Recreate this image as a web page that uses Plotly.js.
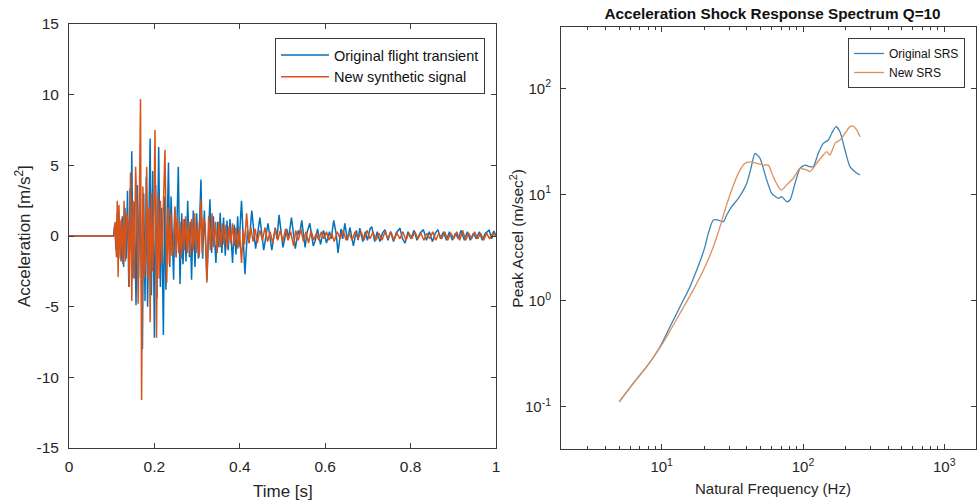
<!DOCTYPE html>
<html>
<head>
<meta charset="utf-8">
<script src="https://cdn.plot.ly/plotly-3.0.1.min.js"></script>
<style>
  html, body { margin: 0; padding: 0; background: #ffffff; }
  #chart { width: 977px; height: 504px; }
</style>
</head>
<body>
<div id="chart"></div>
<script>
// Time history of the flight transient and the synthesized replacement: [time (s), acceleration (m/s^2)]
const originalFlight = [
  [0,0],[0.104,0],[0.107,0.8],[0.110,-1.0],[0.113,1.6],[0.116,-1.4],[0.119,1.1],[0.122,-1.8],[0.125,1.4],[0.128,-2.2],
  [0.131,2.0],[0.134,-1.6],[0.137,3.2],[0.140,-3.6],[0.143,3.4],[0.145,-1.0],[0.147,6.0],[0.150,-3.0],[0.153,2.4],[0.157,-4.9],
  [0.160,3.6],[0.163,-3.0],[0.166,3.5],[0.172,-8.0],[0.175,3.0],[0.178,-4.6],[0.181,4.2],[0.184,-5.0],[0.190,6.9],[0.193,-4.2],
  [0.196,4.6],[0.200,-7.2],[0.203,3.6],[0.206,-4.4],[0.210,6.3],[0.214,-3.6],[0.217,2.0],[0.221,-7.0],[0.224,2.8],[0.227,-3.8],
  [0.233,5.2],[0.236,-2.2],[0.239,2.8],[0.245,-3.1],[0.248,2.0],[0.251,-1.5],[0.256,4.9],[0.260,-3.4],[0.264,1.6],[0.267,-2.0],
  [0.271,1.2],[0.274,-1.8],[0.278,2.5],[0.282,-1.5],[0.284,1.0],[0.287,-3.1],[0.291,1.8],[0.295,-2.2],[0.299,1.6],[0.303,-1.6],
  [0.309,4.0],[0.313,-1.6],[0.317,1.8],[0.323,-3.1],[0.330,2.6],[0.334,-1.2],[0.338,1.4],[0.344,-1.9],[0.348,1.0],[0.351,-0.8],
  [0.354,1.65],[0.358,-1.2],[0.362,1.3],[0.366,-1.4],[0.370,1.1],[0.373,-1.0],[0.377,1.2],[0.383,-1.9],[0.387,0.8],[0.391,-1.3],
  [0.395,1.4],[0.398,-0.8],[0.404,2.5],[0.407,0.2],[0.412,-2.7],[0.418,0.4],[0.422,-0.5],[0.428,1.8],[0.437,-0.9],[0.447,1.3],
  [0.456,-1.0],[0.466,0.9],[0.475,-1.0],[0.483,0.6],[0.487,-0.2],[0.492,1.5],[0.501,-0.8],[0.510,0.5],[0.514,-0.2],[0.521,1.3],
  [0.530,-0.9],[0.537,0.4],[0.540,0.1],[0.545,1.1],[0.553,-0.8],[0.557,0.2],[0.564,0.9],[0.572,-0.7],[0.577,-0.3],[0.582,0.5],
  [0.589,-0.6],[0.596,0.4],[0.603,-0.5],[0.610,0.3],[0.614,-0.2],[0.620,1.1],[0.626,0.1],[0.630,-1.2],[0.637,0.5],[0.641,-0.2],
  [0.646,0.9],[0.652,-0.3],[0.658,0.6],[0.666,-0.7],[0.673,0.4],[0.677,-0.3],[0.681,0.55],[0.688,-0.4],[0.694,0.3],[0.699,-0.3],
  [0.705,0.5],[0.709,0.66],[0.716,-0.4],[0.722,0.3],[0.728,-0.4],[0.734,0.2],[0.740,0.45],[0.747,-0.3],[0.753,0.3],[0.760,-0.4],
  [0.766,0.2],[0.775,0.55],[0.781,-0.2],[0.787,-0.5],[0.794,0.3],[0.801,-0.2],[0.808,0.4],[0.815,-0.3],[0.822,0.2],[0.830,0.45],
  [0.837,-0.3],[0.844,0.3],[0.851,-0.4],[0.858,0.2],[0.864,0.45],[0.870,-0.2],[0.877,0.3],[0.884,-0.3],[0.891,0.3],[0.898,-0.3],
  [0.905,0.2],[0.912,-0.2],[0.918,0.4],[0.926,-0.3],[0.933,0.3],[0.940,-0.3],[0.947,0.2],[0.954,-0.2],[0.961,0.3],[0.968,-0.3],
  [0.975,0.2],[0.984,0.4],[0.990,-0.2],[0.995,0.35],[1.000,0.0]
];

const syntheticSignal = [
  [0,0],[0.105,0],[0.108,1.0],[0.111,-1.5],[0.113,2.5],[0.115,-2.9],[0.117,2.2],[0.120,-1.6],[0.123,1.2],[0.126,-2.0],
  [0.129,2.5],[0.132,-1.8],[0.135,1.6],[0.138,1.0],[0.141,-3.6],[0.144,4.5],[0.147,-4.6],[0.150,2.5],[0.153,-3.0],[0.156,4.9],
  [0.159,2.0],[0.162,-4.8],[0.165,3.0],[0.1675,9.7],[0.170,-11.6],[0.173,3.5],[0.176,-3.0],[0.179,-1.5],[0.182,4.9],[0.185,-3.0],
  [0.188,2.0],[0.190,-6.1],[0.193,3.0],[0.196,-2.5],[0.199,2.0],[0.2014,7.5],[0.205,-7.2],[0.208,3.0],[0.211,-3.0],[0.214,2.5],
  [0.217,-2.0],[0.220,2.0],[0.2248,6.1],[0.229,-3.3],[0.232,2.0],[0.235,-2.0],[0.238,1.6],[0.241,-1.4],[0.244,-1.0],[0.248,2.1],
  [0.251,-1.5],[0.254,1.4],[0.257,-1.2],[0.260,1.0],[0.263,-1.6],[0.267,1.2],[0.270,-1.0],[0.273,1.4],[0.277,-1.2],[0.280,1.0],
  [0.284,-1.4],[0.287,1.2],[0.291,-1.0],[0.294,1.6],[0.298,-1.2],[0.301,1.0],[0.305,-1.5],[0.309,2.6],[0.312,-1.2],[0.315,1.3],
  [0.319,0.8],[0.323,-3.3],[0.327,1.4],[0.331,-1.0],[0.335,1.6],[0.339,-0.8],[0.343,1.0],[0.347,-1.2],[0.351,1.0],[0.355,-0.8],
  [0.359,0.9],[0.363,-0.6],[0.367,0.8],[0.371,-0.9],[0.375,0.7],[0.379,-0.5],[0.383,0.9],[0.387,-0.7],[0.391,0.6],[0.395,-0.9],
  [0.399,0.5],[0.404,-1.9],[0.408,0.4],[0.411,-0.6],[0.416,1.6],[0.421,-0.5],[0.426,0.6],[0.431,-0.4],[0.436,0.5],[0.441,-0.5],
  [0.447,0.4],[0.453,-0.3],[0.459,0.6],[0.465,-0.4],[0.471,0.3],[0.477,-0.5],[0.483,0.5],[0.489,-0.3],[0.495,0.4],[0.501,-0.4],
  [0.507,0.5],[0.513,-0.3],[0.519,0.3],[0.526,-0.7],[0.531,0.4],[0.537,-0.3],[0.543,0.5],[0.549,-0.4],[0.555,0.3],[0.561,-0.5],
  [0.567,0.4],[0.573,-0.3],[0.579,0.2],[0.585,-0.3],[0.591,0.3],[0.597,-0.2],[0.603,0.3],[0.609,-0.3],[0.615,0.2],[0.621,-0.4],
  [0.628,0.3],[0.635,-0.2],[0.642,0.4],[0.649,-0.3],[0.656,0.2],[0.663,-0.3],[0.670,0.3],[0.677,-0.2],[0.684,0.3],[0.691,-0.3],
  [0.698,0.4],[0.705,-0.2],[0.712,0.3],[0.719,-0.3],[0.726,0.2],[0.733,-0.3],[0.740,0.3],[0.747,-0.2],[0.754,0.3],[0.761,-0.3],
  [0.768,0.2],[0.775,-0.2],[0.782,0.3],[0.789,-0.3],[0.796,0.2],[0.803,-0.2],[0.810,0.3],[0.817,-0.2],[0.824,0.2],[0.831,-0.3],
  [0.838,0.2],[0.845,-0.2],[0.852,0.3],[0.859,-0.3],[0.866,0.2],[0.873,-0.2],[0.880,0.3],[0.887,-0.3],[0.894,0.2],[0.901,-0.2],
  [0.908,0.3],[0.915,-0.3],[0.922,0.4],[0.929,-0.3],[0.936,0.2],[0.943,-0.2],[0.950,0.3],[0.957,-0.2],[0.964,0.2],[0.971,-0.3],
  [0.978,0.2],[0.985,-0.2],[0.992,0.2],[1.000,0.0]
];

// Shock response spectra (Q=10): [natural frequency (Hz), peak acceleration (m/sec^2)]
const originalSRS = [
  [5.0,0.111],[6.29,0.166],[7.83,0.238],[9.73,0.367],[11.45,0.567],[13.48,0.875],[15.86,1.35],[17.69,1.94],[19.19,2.59],[20.25,3.22],
  [21.37,4.30],[23.19,5.74],[25.15,5.74],[27.29,5.53],[28.84,6.40],[31.28,7.66],[34.84,9.19],[39.97,12.7],[42.85,17.7],[45.74,24.4],
  [49.63,21.9],[55.36,13.7],[60.04,10.25],[66.88,9.19],[70.69,9.52],[76.67,8.54],[80.91,8.86],[87.78,12.7],[95.24,17.6],[103.3,18.9],
  [112.1,18.25],[118.3,18.25],[128.3,24.4],[139.2,30.3],[151.0,32.6],[159.6,37.7],[171.2,43.5],[182.7,39.0],[198.2,26.2],[215.0,18.25],
  [233.3,16.4],[253.1,15.25]
];

const newSRS = [
  [5.0,0.111],[6.29,0.166],[7.83,0.238],[9.73,0.361],[10.85,0.457],[13.48,0.759],[16.74,1.26],[20.25,2.08],[23.19,3.22],[25.86,4.96],
  [28.05,7.13],[31.28,11.0],[34.84,15.8],[38.87,19.65],[42.17,20.3],[47.02,19.65],[52.36,18.9],[56.81,18.9],[61.62,14.7],[66.88,11.8],
  [70.69,11.0],[76.67,12.3],[85.39,14.2],[95.24,17.6],[106.2,17.0],[112.1,16.4],[125.0,19.65],[139.2,23.5],[147.2,25.3],[155.3,23.5],
  [168.5,30.3],[182.7,32.6],[198.2,37.7],[215.0,43.5],[227.0,44.1],[239.9,40.5],[253.1,35.0]
];

// Axis ticks
const timeTicks = [0, 0.2, 0.4, 0.6, 0.8, 1];
const timeTickText = ['0', '0.2', '0.4', '0.6', '0.8', '1'];
const accelTicks = [-15, -10, -5, 0, 5, 10, 15];
const accelTickText = ['-15', '-10', '-5', '0', '5', '10', '15'];
const freqTicks = [10, 100, 1000];
const freqTickText = ['10<sup>1</sup>', '10<sup>2</sup>', '10<sup>3</sup>'];
const freqMinorTicks = [3, 4, 5, 6, 7, 8, 9, 20, 30, 40, 50, 60, 70, 80, 90, 200, 300, 400, 500, 600, 700, 800, 900];
const srsTicks = [0.1, 1, 10, 100];
const srsTickText = ['10<sup>-1</sup>', '10<sup>0</sup>', '10<sup>1</sup>', '10<sup>2</sup>'];

const FONT = 'Liberation Sans, Arial, Helvetica, sans-serif';
const INK = '#262626';
const AXIS = '#3a3a3a';

const col = (rows, i) => rows.map(r => r[i]);

const traces = [
  { x: col(originalFlight, 0), y: col(originalFlight, 1), type: 'scatter', mode: 'lines',
    name: 'Original flight transient', xaxis: 'x', yaxis: 'y', legend: 'legend',
    line: { color: '#0072BD', width: 1.5 } },
  { x: col(syntheticSignal, 0), y: col(syntheticSignal, 1), type: 'scatter', mode: 'lines',
    name: 'New synthetic signal', xaxis: 'x', yaxis: 'y', legend: 'legend',
    line: { color: '#D95319', width: 1.5 } },
  { x: col(originalSRS, 0), y: col(originalSRS, 1), type: 'scatter', mode: 'lines',
    name: 'Original SRS', xaxis: 'x2', yaxis: 'y2', legend: 'legend2',
    line: { color: '#3b84b4', width: 1.3, shape: 'spline', smoothing: 0.6 } },
  { x: col(newSRS, 0), y: col(newSRS, 1), type: 'scatter', mode: 'lines',
    name: 'New SRS', xaxis: 'x2', yaxis: 'y2', legend: 'legend2',
    line: { color: '#e0905c', width: 1.3, shape: 'spline', smoothing: 0.6 } },
  // invisible carrier for the minor-tick frequency axis
  { x: [10], y: [1], type: 'scatter', mode: 'markers', xaxis: 'x3', yaxis: 'y2',
    showlegend: false, hoverinfo: 'skip', marker: { opacity: 0, size: 1 } }
];

const boxAxis = (extra) => Object.assign({
  showline: true, linecolor: AXIS, linewidth: 1, mirror: 'ticks',
  ticks: 'inside', ticklen: 5, tickwidth: 1, tickcolor: AXIS,
  showgrid: false, zeroline: false, fixedrange: true,
  tickmode: 'array', tickfont: { family: FONT, color: INK, size: 15.5 }
}, extra);

const W = 977, H = 504;
const px = v => v / W;
const py = v => 1 - v / H;

const FREQ_RANGE = [0.2873, 3.2244];

const layout = {
  width: W, height: H,
  margin: { l: 0, r: 0, t: 0, b: 0, pad: 0 },
  paper_bgcolor: '#ffffff', plot_bgcolor: '#ffffff',
  font: { family: FONT, color: INK },
  showlegend: true,
  title: {
    text: '<b>Acceleration Shock Response Spectrum Q=10</b>',
    font: { family: FONT, size: 15.3, color: '#111111' },
    x: px(772.5), xref: 'paper', xanchor: 'center',
    y: py(14), yref: 'paper', yanchor: 'middle'
  },
  xaxis: boxAxis({ domain: [px(69), px(496)], anchor: 'y', range: [0, 1],
    tickvals: timeTicks, ticktext: timeTickText, ticklabelstandoff: 4 }),
  yaxis: boxAxis({ domain: [1 - 448 / H, 1 - 24 / H], anchor: 'x', range: [-15, 15],
    tickvals: accelTicks, ticktext: accelTickText, ticklabelstandoff: 6 }),
  xaxis2: boxAxis({ type: 'log', domain: [px(561), px(976)], anchor: 'y2',
    range: FREQ_RANGE, tickvals: freqTicks, ticktext: freqTickText,
    tickfont: { family: FONT, color: INK, size: 15 }, ticklabelstandoff: 4 }),
  xaxis3: { type: 'log', overlaying: 'x2', anchor: 'y2', domain: [px(561), px(976)],
    range: FREQ_RANGE, tickmode: 'array', tickvals: freqMinorTicks,
    ticks: 'inside', ticklen: 3, tickwidth: 1, tickcolor: AXIS, mirror: 'ticks',
    showline: false, showticklabels: false, showgrid: false, zeroline: false, fixedrange: true },
  yaxis2: boxAxis({ type: 'log', domain: [1 - 449 / H, 1 - 27 / H], anchor: 'x2',
    range: [-1.3987, 2.5776], tickvals: srsTicks, ticktext: srsTickText,
    tickfont: { family: FONT, color: INK, size: 15 }, ticklabelstandoff: 6 }),
  legend: {
    x: px(275), y: py(38), xanchor: 'left', yanchor: 'top',
    bgcolor: '#ffffff', bordercolor: AXIS, borderwidth: 1, itemwidth: 48,
    font: { family: FONT, size: 14.5, color: '#111111' }, tracegroupgap: 0
  },
  legend2: {
    x: px(848), y: py(38), xanchor: 'left', yanchor: 'top',
    bgcolor: '#ffffff', bordercolor: AXIS, borderwidth: 1,
    font: { family: FONT, size: 12, color: '#111111' }, tracegroupgap: 0
  },
  annotations: [
    { text: 'Time [s]', x: px(283), y: py(491), xref: 'paper', yref: 'paper',
      xanchor: 'center', yanchor: 'middle', showarrow: false,
      font: { family: FONT, size: 17, color: INK } },
    { text: 'Acceleration [m/s<sup>2</sup>]', x: px(23), y: py(236), xref: 'paper', yref: 'paper',
      xanchor: 'center', yanchor: 'middle', textangle: -90, showarrow: false,
      font: { family: FONT, size: 17, color: INK } },
    { text: 'Natural Frequency (Hz)', x: px(772.7), y: py(488), xref: 'paper', yref: 'paper',
      xanchor: 'center', yanchor: 'middle', showarrow: false,
      font: { family: FONT, size: 15, color: INK } },
    { text: 'Peak Accel (m/sec<sup>2</sup>)', x: px(516.7), y: py(238), xref: 'paper', yref: 'paper',
      xanchor: 'center', yanchor: 'middle', textangle: -90, showarrow: false,
      font: { family: FONT, size: 15.5, color: INK } }
  ]
};

Plotly.newPlot('chart', traces, layout, { staticPlot: true, displayModeBar: false });
</script>
</body>
</html>
